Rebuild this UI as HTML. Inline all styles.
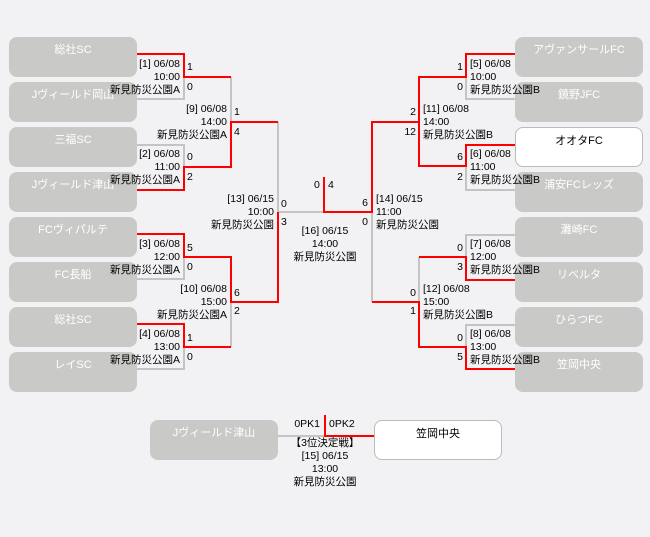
<!DOCTYPE html>
<html><head><meta charset="utf-8"><style>
body{margin:0;background:#f2f1f3;}
#c{position:relative;width:650px;height:537px;overflow:hidden;background:#f2f1f3;font-family:"Liberation Sans","Noto Sans CJK JP",sans-serif;font-size:10.5px;color:#000;}
.b{position:absolute;width:128px;height:40px;border-radius:8px;background:#c9c9c7;color:#fff;text-align:center;line-height:26px;font-size:11px;}
.w{background:#fff;color:#000;border:1px solid #bbb;width:126px;height:38px;}
.t{position:absolute;line-height:13px;white-space:nowrap;}
.r{text-align:right;}
.l{position:absolute;}
</style></head><body><div id="c">
<div class="b" style="left:9px;top:37px">総社SC</div>
<div class="b" style="left:9px;top:82px">Jヴィールド岡山</div>
<div class="b" style="left:9px;top:127px">三福SC</div>
<div class="b" style="left:9px;top:172px">Jヴィールド津山</div>
<div class="b" style="left:9px;top:217px">FCヴィパルテ</div>
<div class="b" style="left:9px;top:262px">FC長船</div>
<div class="b" style="left:9px;top:307px">総社SC</div>
<div class="b" style="left:9px;top:352px">レイSC</div>
<div class="b" style="left:515px;top:37px">アヴァンサールFC</div>
<div class="b" style="left:515px;top:82px">鏡野JFC</div>
<div class="b w" style="left:515px;top:127px">オオタFC</div>
<div class="b" style="left:515px;top:172px">浦安FCレッズ</div>
<div class="b" style="left:515px;top:217px">灘崎FC</div>
<div class="b" style="left:515px;top:262px">リベルタ</div>
<div class="b" style="left:515px;top:307px">ひらつFC</div>
<div class="b" style="left:515px;top:352px">笠岡中央</div>
<div class="b" style="left:150px;top:420px">Jヴィールド津山</div>
<div class="b w" style="left:374px;top:420px">笠岡中央</div>

<svg class="l" style="left:0;top:0" width="650" height="537">
<g fill="none" stroke-width="2">
<g stroke="#c4c4c4">
<path d="M137 99H184V77"/>
<path d="M137 145H184V167"/>
<path d="M231 77V122"/>
<path d="M137 279H184V257"/>
<path d="M184 347V324"/>
<path d="M137 369H184V347"/>
<path d="M231 302V347"/>
<path d="M278 122V212H324"/>
<path d="M515 99H466V77"/>
<path d="M419 77V122"/>
<path d="M515 190H466V166"/>
<path d="M515 235H466V257"/>
<path d="M419 257V302"/>
<path d="M372 212V302"/>
<path d="M515 325H466V347"/>
<path d="M278 436H325"/>
</g>
<g stroke="#f00">
<path d="M137 54H184V77H231"/>
<path d="M137 190H184V167H231V122H278"/>
<path d="M137 234H184V257H231V302H278V212"/>
<path d="M137 324H184V347H231"/>
<path d="M324 177V212H372V122H419V77H466V54H515"/>
<path d="M419 122V166H466V145H515"/>
<path d="M515 280H466V257H419"/>
<path d="M372 302H419V347H466V369H515"/>
<path d="M325 415V436H374"/>
</g>
</g>
</svg>

<div class="t r" style="right:470px;top:58px">[1] 06/08<br>10:00<br>新見防災公園A</div>
<div class="t" style="left:187px;top:61px">1</div><div class="t" style="left:187px;top:81px">0</div>
<div class="t r" style="right:423px;top:103px">[9] 06/08<br>14:00<br>新見防災公園A</div>
<div class="t" style="left:234px;top:106px">1</div><div class="t" style="left:234px;top:126px">4</div>
<div class="t r" style="right:470px;top:148px">[2] 06/08<br>11:00<br>新見防災公園A</div>
<div class="t" style="left:187px;top:151px">0</div><div class="t" style="left:187px;top:171px">2</div>
<div class="t r" style="right:376px;top:193px">[13] 06/15<br>10:00<br>新見防災公園</div>
<div class="t" style="left:281px;top:198px">0</div><div class="t" style="left:281px;top:216px">3</div>
<div class="t r" style="right:470px;top:238px">[3] 06/08<br>12:00<br>新見防災公園A</div>
<div class="t" style="left:187px;top:242px">5</div><div class="t" style="left:187px;top:261px">0</div>
<div class="t r" style="right:423px;top:283px">[10] 06/08<br>15:00<br>新見防災公園A</div>
<div class="t" style="left:234px;top:287px">6</div><div class="t" style="left:234px;top:305px">2</div>
<div class="t r" style="right:470px;top:328px">[4] 06/08<br>13:00<br>新見防災公園A</div>
<div class="t" style="left:187px;top:332px">1</div><div class="t" style="left:187px;top:351px">0</div>
<div class="t" style="left:314px;top:179px">0</div><div class="t" style="left:328px;top:179px">4</div>
<div class="t" style="left:276px;top:225px;width:98px;text-align:center">[16] 06/15<br>14:00<br>新見防災公園</div>
<div class="t" style="left:376px;top:193px">[14] 06/15<br>11:00<br>新見防災公園</div>
<div class="t r" style="right:282px;top:197px">6</div><div class="t r" style="right:282px;top:216px">0</div>
<div class="t" style="left:470px;top:58px">[5] 06/08<br>10:00<br>新見防災公園B</div>
<div class="t r" style="right:187px;top:61px">1</div><div class="t r" style="right:187px;top:81px">0</div>
<div class="t" style="left:423px;top:103px">[11] 06/08<br>14:00<br>新見防災公園B</div>
<div class="t r" style="right:234px;top:106px">2</div><div class="t r" style="right:234px;top:126px">12</div>
<div class="t" style="left:470px;top:148px">[6] 06/08<br>11:00<br>新見防災公園B</div>
<div class="t r" style="right:187px;top:151px">6</div><div class="t r" style="right:187px;top:171px">2</div>
<div class="t" style="left:470px;top:238px">[7] 06/08<br>12:00<br>新見防災公園B</div>
<div class="t r" style="right:187px;top:242px">0</div><div class="t r" style="right:187px;top:261px">3</div>
<div class="t" style="left:423px;top:283px">[12] 06/08<br>15:00<br>新見防災公園B</div>
<div class="t r" style="right:234px;top:287px">0</div><div class="t r" style="right:234px;top:305px">1</div>
<div class="t" style="left:470px;top:328px">[8] 06/08<br>13:00<br>新見防災公園B</div>
<div class="t r" style="right:187px;top:332px">0</div><div class="t r" style="right:187px;top:351px">5</div>
<div class="t r" style="right:330px;top:418px">0PK1</div>
<div class="t" style="left:329px;top:418px">0PK2</div>
<div class="t" style="left:265px;top:437px;width:120px;text-align:center">【3位決定戦】<br>[15] 06/15<br>13:00<br>新見防災公園</div>
</div></body></html>
